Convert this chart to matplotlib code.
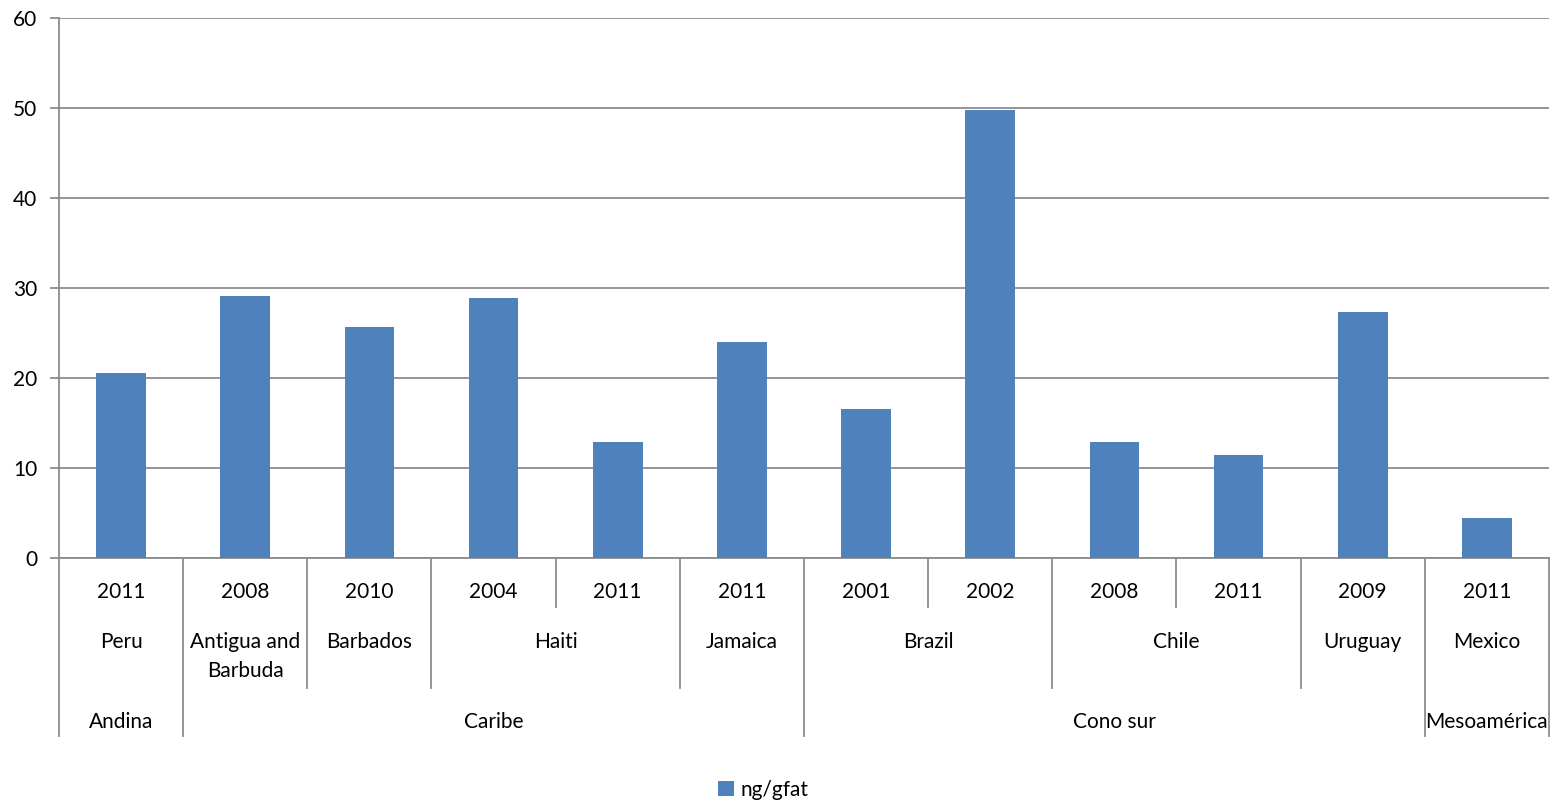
import matplotlib.pyplot as plt
from matplotlib import transforms

# data
years = ["2011", "2008", "2010", "2004", "2011", "2011", "2001", "2002", "2008", "2011", "2009", "2011"]
values = [20.6, 29.1, 25.7, 28.9, 12.9, 24.0, 16.6, 49.8, 12.9, 11.4, 27.3, 4.4]
countries = ["Peru", "Antigua and\nBarbuda", "Barbados", "Haiti", "Jamaica", "Brazil", "Chile", "Uruguay", "Mexico"]
country_sizes = [1, 1, 1, 2, 1, 2, 2, 1, 1]
regions = ["Andina", "Caribe", "Cono sur", "Mesoamérica"]
region_sizes = [1, 5, 5, 1]
series_name = "ng/gfat"

plt.rcParams['font.family'] = ['Lato', 'DejaVu Sans']
plt.rcParams['font.size'] = 15

fig = plt.figure(figsize=(15.64, 8.05), dpi=100)
ax = fig.add_axes([0.0377, 0.3068, 0.9527, 0.6708])

bar_color = '#4F81BD'
line_color = '#8C8C8C'
xs = list(range(len(values)))
ax.bar(xs, values, width=0.4, color=bar_color, label=series_name, zorder=3)

ax.set_xlim(-0.5, len(values) - 0.5)
ax.set_ylim(0, 60)
ax.set_yticks(range(0, 61, 10))
ax.yaxis.grid(True, color=line_color, linewidth=1.3, zorder=0)
ax.tick_params(axis='y', length=6.5, width=1.3, color=line_color, pad=9, labelsize=15)
ax.set_xticks([])
for s in ['top', 'right']:
    ax.spines[s].set_visible(False)
ax.spines['left'].set_color(line_color)
ax.spines['left'].set_linewidth(1.3)
ax.spines['bottom'].set_color(line_color)
ax.spines['bottom'].set_linewidth(1.3)

# multi-level category axis below the plot
trans = transforms.blended_transform_factory(ax.transData, ax.transAxes)
y_year, y_country, y_region = -0.0907, -0.2407, -0.3296

# boundaries -> depth of separator line
depth = {}
pos = 0
for n in country_sizes:
    pos += n
    depth[pos] = y_country
pos = 0
for n in region_sizes:
    pos += n
    depth[pos] = y_region
depth[0] = y_region
for i in range(1, len(values)):
    depth.setdefault(i, y_year)

for b, d in depth.items():
    ax.plot([b - 0.5, b - 0.5], [0, d], color=line_color, linewidth=1.3,
            transform=trans, clip_on=False)

for x, yr in zip(xs, years):
    ax.text(x, -0.063, yr, ha='center', va='center', transform=trans)

start = 0
for name, n in zip(countries, country_sizes):
    center = start + (n - 1) / 2
    ax.text(center, -0.137, name, ha='center', va='top', transform=trans,
            linespacing=1.55)
    start += n

start = 0
for name, n in zip(regions, region_sizes):
    center = start + (n - 1) / 2
    ax.text(center, -0.304, name, ha='center', va='center', transform=trans)
    start += n

fig.legend(loc='center', bbox_to_anchor=(0.488, 0.019), frameon=False,
           handlelength=0.75, handleheight=0.75, handletextpad=0.3)

plt.savefig('out.png', dpi=100)
